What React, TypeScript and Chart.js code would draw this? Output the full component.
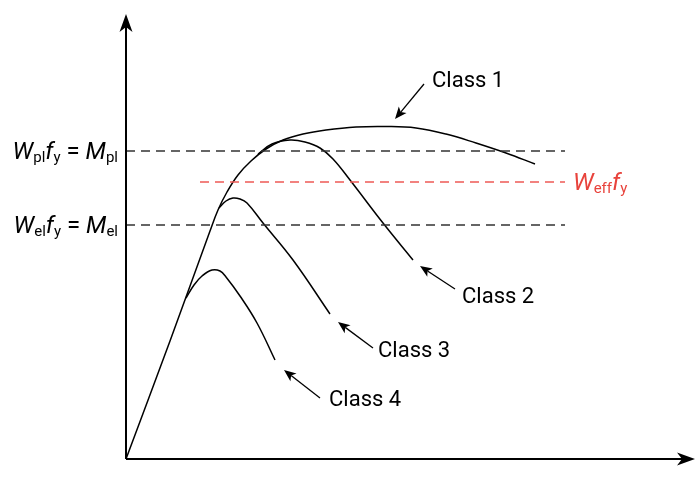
import React, { useEffect, useRef } from "react";
import { Chart, registerables } from "chart.js";
Chart.register(...registerables);

// Schematic units: x = rotation/deformation, y = moment
const class1X = [0, 44, 84, 92, 101, 112, 125, 140, 157, 177, 200, 230, 260, 290, 320, 350, 380, 409];
const class1Y = [0, 118, 228, 249, 267, 284, 298, 310, 319, 325, 329, 332, 332.5, 331, 325, 316, 306, 295];
const class2X = [132, 146, 164, 179, 194, 207, 224, 257, 287];
const class2Y = [305, 315, 319, 317, 311, 300, 279, 236, 199];
const class3X = [93, 100, 107, 114, 121, 137, 167, 204];
const class3Y = [251, 258, 261, 260, 256, 236, 199, 145];
const class4X = [60, 68, 76, 86, 94, 100, 114, 131, 149];
const class4Y = [161, 174, 183, 189, 188, 182, 163, 136, 99];

const M_PL = 308;
const M_EL = 234;
const W_EFF = 277;
const DASH_END = 439;
const RED_START = 74;

const classNames = ["Class 1", "Class 2", "Class 3", "Class 4"];
const labelPos = [
  [306, 378],
  [336, 162],
  [252, 108],
  [203, 59],
];
const arrowTail = [
  [298, 375],
  [329, 170],
  [247, 111],
  [194, 61],
];
const arrowTip = [
  [269, 340],
  [294, 193],
  [212, 137],
  [158, 89],
];

const FONT = "Roboto, 'DejaVu Sans', sans-serif";
const RED = "#e8433c";

const zip = (xs: number[], ys: number[]) => xs.map((x, i) => ({ x, y: ys[i] }));

type Seg = { t: string; it?: boolean; sub?: boolean };

function drawMath(ctx: CanvasRenderingContext2D, segs: Seg[], x: number, cy: number, align: "left" | "right", color: string) {
  const main = 24, sub = 15;
  const fontOf = (s: Seg) => `${s.it ? "italic " : ""}${s.sub ? sub : main}px ${FONT}`;
  let total = 0;
  for (const s of segs) {
    ctx.font = fontOf(s);
    total += ctx.measureText(s.t).width;
  }
  let cx = align === "right" ? x - total : x;
  const base = cy + 8;
  ctx.fillStyle = color;
  ctx.textBaseline = "alphabetic";
  ctx.textAlign = "left";
  for (const s of segs) {
    ctx.font = fontOf(s);
    ctx.fillText(s.t, cx, s.sub ? base + 3 : base);
    cx += ctx.measureText(s.t).width;
  }
}

function arrowHead(ctx: CanvasRenderingContext2D, tx: number, ty: number, ux: number, uy: number, L: number, W: number, notch: number) {
  const px = -uy, py = ux;
  ctx.beginPath();
  ctx.moveTo(tx, ty);
  ctx.lineTo(tx - L * ux + W * px, ty - L * uy + W * py);
  ctx.lineTo(tx - (L - notch) * ux, ty - (L - notch) * uy);
  ctx.lineTo(tx - L * ux - W * px, ty - L * uy - W * py);
  ctx.closePath();
  ctx.fill();
}

function arrow(ctx: CanvasRenderingContext2D, x1: number, y1: number, x2: number, y2: number, lw: number, L: number, W: number, notch: number) {
  const dx = x2 - x1, dy = y2 - y1;
  const len = Math.hypot(dx, dy);
  const ux = dx / len, uy = dy / len;
  ctx.strokeStyle = "#000";
  ctx.fillStyle = "#000";
  ctx.lineWidth = lw;
  ctx.beginPath();
  ctx.moveTo(x1, y1);
  ctx.lineTo(x2 - (L - notch) * ux, y2 - (L - notch) * uy);
  ctx.stroke();
  arrowHead(ctx, x2, y2, ux, uy, L, W, notch);
}

const overlay = {
  id: "overlay",
  afterDraw(chart: any) {
    const ctx: CanvasRenderingContext2D = chart.ctx;
    const xs = chart.scales.x, ys = chart.scales.y;
    const X = (v: number) => xs.getPixelForValue(v);
    const Y = (v: number) => ys.getPixelForValue(v);
    ctx.save();
    // axes
    arrow(ctx, X(0), Y(0), X(0), Y(445), 2, 18, 6.5, 5);
    arrow(ctx, X(0), Y(0), X(569), Y(0), 2, 18, 6.5, 5);
    // class arrows and labels
    classNames.forEach((name, i) => {
      arrow(ctx, X(arrowTail[i][0]), Y(arrowTail[i][1]), X(arrowTip[i][0]), Y(arrowTip[i][1]), 1.3, 12, 5, 3);
      ctx.font = `22px ${FONT}`;
      ctx.fillStyle = "#000";
      ctx.textAlign = "left";
      ctx.textBaseline = "middle";
      ctx.fillText(name, X(labelPos[i][0]), Y(labelPos[i][1]));
    });
    // math labels
    drawMath(ctx, [{ t: "W", it: true }, { t: "pl", sub: true }, { t: "f", it: true }, { t: "y", sub: true }, { t: " = " }, { t: "M", it: true }, { t: "pl", sub: true }], X(-8), Y(M_PL), "right", "#000");
    drawMath(ctx, [{ t: "W", it: true }, { t: "el", sub: true }, { t: "f", it: true }, { t: "y", sub: true }, { t: " = " }, { t: "M", it: true }, { t: "el", sub: true }], X(-8), Y(M_EL), "right", "#000");
    drawMath(ctx, [{ t: "W", it: true }, { t: "eff", sub: true }, { t: "f", it: true }, { t: "y", sub: true }], X(447), Y(W_EFF), "left", RED);
    ctx.restore();
  },
};

export default function App() {
  const ref = useRef<HTMLCanvasElement>(null);
  useEffect(() => {
    if (!ref.current) return;
    const curve = (data: any) => ({
      data,
      showLine: true,
      borderColor: "#000",
      borderWidth: 1.5,
      pointRadius: 0,
      tension: 0.4,
      fill: false,
    });
    const dashed = (x0: number, x1: number, y: number, color: string) => ({
      data: [{ x: x0, y }, { x: x1, y }],
      showLine: true,
      borderColor: color,
      borderWidth: 1.5,
      borderDash: [9, 6],
      pointRadius: 0,
      fill: false,
    });
    const chart = new Chart(ref.current, {
      type: "scatter",
      data: {
        datasets: [
          dashed(0, DASH_END, M_PL, "#333"),
          dashed(0, DASH_END, M_EL, "#333"),
          dashed(RED_START, DASH_END, W_EFF, "#ee5a55"),
          curve(zip(class1X, class1Y)),
          curve(zip(class2X, class2Y)),
          curve(zip(class3X, class3Y)),
          curve(zip(class4X, class4Y)),
        ] as any,
      },
      options: {
        animation: false,
        responsive: false,
        maintainAspectRatio: false,
        layout: { padding: 0 },
        plugins: { legend: { display: false }, tooltip: { enabled: false } },
        scales: {
          x: { type: "linear", display: false, min: -126, max: 571 },
          y: { type: "linear", display: false, min: -38, max: 459 },
        },
      },
      plugins: [overlay],
    });
    return () => chart.destroy();
  }, []);
  return (
    <div style={{ position: "fixed", left: 0, top: 0, width: 697, height: 497, background: "#fff" }}>
      <canvas ref={ref} width={697} height={497} style={{ width: 697, height: 497 }} />
    </div>
  );
}
